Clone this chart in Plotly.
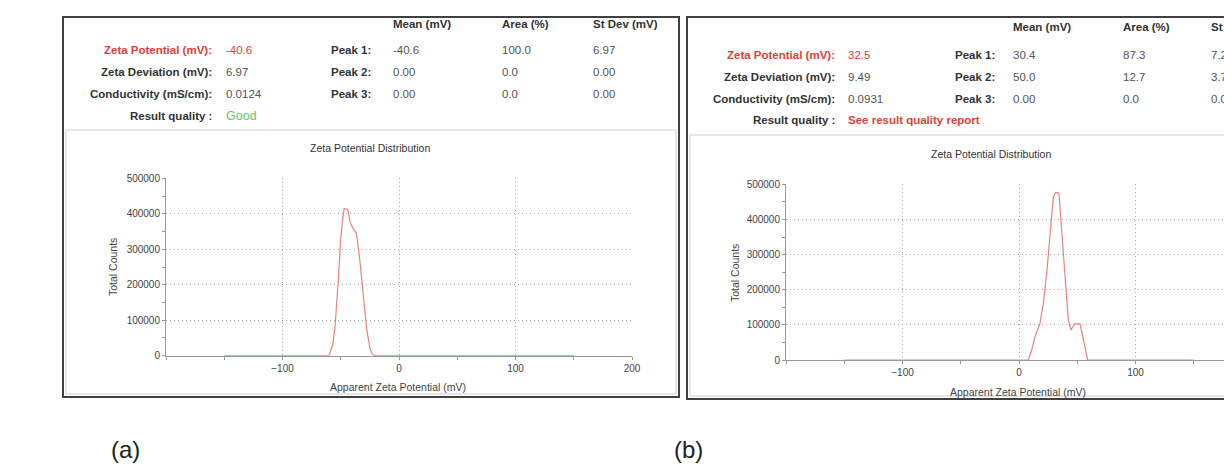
import plotly.graph_objects as go

W, H = 1224, 464

# ---------------- data ----------------
left_zeta_mv = [-150, -60, -57, -55, -52, -50, -48, -47, -44, -42, -39.5, -36.5,
                -33.5, -30.7, -27.8, -25, -23, -21, 150]
left_counts = [0, 0, 30000, 77000, 218000, 331000, 396000, 415000, 412000, 377000,
               359000, 345000, 265000, 171000, 77000, 21000, 5000, 0, 0]

right_zeta_mv = [-150, 8, 11, 13.7, 18, 20.9, 23.8, 26.6, 29.5, 31.5, 34.3, 36.6,
                 39.5, 42.3, 44.6, 47.5, 52.4, 55.2, 59, 150]
right_counts = [0, 0, 30000, 66000, 104000, 161000, 247000, 361000, 465000, 477000,
                475000, 370000, 228000, 114000, 85000, 103000, 103000, 57000, 0, 0]

x_tick_vals = [-100, 0, 100, 200]
y_tick_vals = [0, 100000, 200000, 300000, 400000, 500000]

summary_labels = ["Zeta Potential (mV):", "Zeta Deviation (mV):",
                  "Conductivity (mS/cm):", "Result quality :"]
left_summary_values = ["-40.6", "6.97", "0.0124", "Good"]
right_summary_values = ["32.5", "9.49", "0.0931", "See result quality report"]

peak_labels = ["Peak 1:", "Peak 2:", "Peak 3:"]
peak_columns = ["Mean (mV)", "Area (%)", "St Dev (mV)"]
left_peak_mean = ["-40.6", "0.00", "0.00"]
left_peak_area = ["100.0", "0.0", "0.0"]
left_peak_sd = ["6.97", "0.00", "0.00"]
right_peak_mean = ["30.4", "50.0", "0.00"]
right_peak_area = ["87.3", "12.7", "0.0"]
right_peak_sd = ["7.22", "3.71", "0.00"]

plot_title = "Zeta Potential Distribution"
x_title = "Apparent Zeta Potential (mV)"
y_title = "Total Counts"
panel_labels = ["(a)", "(b)"]


def X(px):
    return px / W


def Y(py):
    return 1 - py / H


FONT = "Liberation Sans, Arial, sans-serif"
RED = "#e0403a"
GREEN = "#66c466"
LABEL_C = "#333333"
VAL_C = "#555555"
LINE_C = "#e58482"
AX_C = "#9a9a9a"
GRID_C = "#a8a8a8"

fig = go.Figure()
fig.add_trace(go.Scatter(x=left_zeta_mv, y=left_counts, mode="lines",
                         line=dict(color=LINE_C, width=1.2), xaxis="x", yaxis="y",
                         showlegend=False, hoverinfo="skip"))
fig.add_trace(go.Scatter(x=right_zeta_mv, y=right_counts, mode="lines",
                         line=dict(color=LINE_C, width=1.2), xaxis="x2", yaxis="y2",
                         showlegend=False, hoverinfo="skip"))

tickfont = dict(family=FONT, size=10, color="#444444")
GRID_DASH = "1px,3px"


def xaxis(domain, rng, anchor):
    return dict(domain=domain, range=rng, anchor=anchor, tickmode="array",
                tickvals=x_tick_vals, ticks="outside", ticklen=3, tickcolor=AX_C,
                showline=True, linecolor=AX_C, linewidth=1, zeroline=False,
                showgrid=True, gridcolor=GRID_C, griddash=GRID_DASH, gridwidth=1,
                tickfont=tickfont, automargin=False,
                minor=dict(tickmode="linear", tick0=0, dtick=50,
                           ticks="outside", ticklen=3,
                           tickcolor=AX_C, showgrid=False),
                fixedrange=True)


def yaxis(domain, anchor):
    return dict(domain=domain, range=[0, 500000], anchor=anchor, tickmode="array",
                tickvals=y_tick_vals, tickformat="d", ticks="outside", ticklen=3,
                tickcolor=AX_C, showline=True, linecolor=AX_C, linewidth=1,
                zeroline=False, showgrid=True, gridcolor=GRID_C, griddash=GRID_DASH,
                gridwidth=1, tickfont=tickfont, automargin=False,
                minor=dict(tickmode="linear", tick0=0, dtick=50000, ticks="outside",
                           ticklen=3, tickcolor=AX_C, showgrid=False),
                fixedrange=True)


# left plot: x from px 166 (-200) to 632 (200); y from 355.7 (0) to 178.3 (5e5)
# right plot: x from px 786 (-200), clipped at the image edge; y from 360 (0) to 184.3 (5e5)
r_right = -200 + (1224 - 786) / 1.165
fig.update_layout(
    width=W, height=H, margin=dict(l=0, r=0, t=0, b=0, pad=0, autoexpand=False),
    paper_bgcolor="white", plot_bgcolor="white",
    xaxis=xaxis([X(166), X(632)], [-200, 200], "y"),
    yaxis=yaxis([Y(355.7), Y(178.3)], "x"),
    xaxis2=xaxis([X(786), 1.0], [-200, r_right], "y2"),
    yaxis2=yaxis([Y(360), Y(184.3)], "x2"),
)

shapes = []
for (x0, y0, x1, y1, sep) in [(63, 17, 679, 397, 130), (687, 17, 1240, 399, 135)]:
    shapes.append(dict(type="rect", xref="paper", yref="paper", x0=X(x0 + 3), x1=X(x1 - 3),
                       y0=Y(y1 - 3), y1=Y(sep), line=dict(color="#cfcfcf", width=1)))
    shapes.append(dict(type="rect", xref="paper", yref="paper", x0=X(x0), x1=X(x1),
                       y0=Y(y1), y1=Y(y0), line=dict(color="#404040", width=2)))
fig.update_layout(shapes=shapes)

ann = []


def text(px, py, s, size=8, color=LABEL_C, bold=False, anchor="left", angle=0):
    ann.append(dict(xref="paper", yref="paper", x=X(px), y=Y(py),
                    text=("<b>%s</b>" % s) if bold else s, showarrow=False,
                    xanchor=anchor, yanchor="middle", textangle=angle,
                    font=dict(family=FONT, size=size, color=color)))


panels = [
    dict(rows=[50, 72, 94, 116], hdr=24, lab_x=214, val_x=224, peak_x=373,
         cols=[391, 500, 591], vals=left_summary_values,
         pm=left_peak_mean, pa=left_peak_area, ps=left_peak_sd,
         title=(370, 148), xt=(398, 387), yt=(113, 267), fs=11.5),
    dict(rows=[55, 77, 99, 120], hdr=27, lab_x=837, val_x=846, peak_x=997,
         cols=[1011, 1121, 1209], vals=right_summary_values,
         pm=right_peak_mean, pa=right_peak_area, ps=right_peak_sd,
         title=(991, 154), xt=(1018, 392), yt=(735, 273), fs=11.5),
]

for i, p in enumerate(panels):
    fs = p["fs"]
    for c, name in zip(p["cols"], peak_columns):
        text(c, p["hdr"], name, size=fs, bold=True)
    for r, (lab, val) in enumerate(zip(summary_labels, p["vals"])):
        y = p["rows"][r]
        if r == 0:
            text(p["lab_x"], y, lab, size=fs, color=RED, bold=True, anchor="right")
            text(p["val_x"], y, val, size=fs, color=RED)
        elif r == 3:
            text(p["lab_x"], y, lab, size=fs, bold=True, anchor="right")
            if i == 0:
                text(p["val_x"], y, val, size=fs + 1, color=GREEN)
            else:
                text(p["val_x"], y, val, size=fs, color=RED, bold=True)
        else:
            text(p["lab_x"], y, lab, size=fs, bold=True, anchor="right")
            text(p["val_x"], y, val, size=fs, color=VAL_C)
    for r, lab in enumerate(peak_labels):
        y = p["rows"][r]
        text(p["peak_x"], y, lab, size=fs, bold=True, anchor="right")
        text(p["cols"][0], y, p["pm"][r], size=fs, color=VAL_C)
        text(p["cols"][1], y, p["pa"][r], size=fs, color=VAL_C)
        text(p["cols"][2], y, p["ps"][r], size=fs, color=VAL_C)
    text(p["title"][0], p["title"][1], plot_title, size=10.5, color="#333333", anchor="center")
    text(p["xt"][0], p["xt"][1], x_title, size=10.5, color="#444444", anchor="center")
    text(p["yt"][0], p["yt"][1], y_title, size=10.5, color="#444444", anchor="center", angle=-90)

text(125, 449, panel_labels[0], size=24, color="#222222", anchor="center")
text(688, 449, panel_labels[1], size=24, color="#222222", anchor="center")

fig.update_layout(annotations=ann)
fig.write_html(
    "out.html",
    config={"displayModeBar": False, "responsive": False},
    post_script=("document.documentElement.style.margin='0';"
                 "document.documentElement.style.overflow='hidden';"
                 "document.body.style.margin='0';"
                 "document.body.style.overflow='hidden';"),
)
